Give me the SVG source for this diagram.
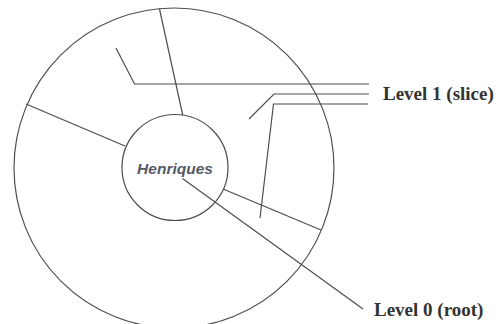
<svg xmlns="http://www.w3.org/2000/svg" width="500" height="324" viewBox="0 0 500 324">
  <style>
    .ln { fill: none; stroke: #4d4d4d; stroke-width: 1.2; }
    .lbl { font-family: "Liberation Serif", "Times New Roman", serif; font-weight: bold; font-size: 19px; fill: #333; }
    .root { font-family: "Liberation Sans", Arial, sans-serif; font-style: italic; font-weight: bold; font-size: 15.5px; fill: #555a66; }
  </style>
  <rect width="500" height="324" fill="#fff"/>
  <g id="outer">
    <circle class="ln" cx="174" cy="168" r="160"/>
  </g>
  <g id="inner">
    <circle class="ln" cx="175" cy="167.5" r="53"/>
    <text class="root" x="175" y="174" text-anchor="middle">Henriques</text>
  </g>
  <g id="connectors">
    <line class="ln" x1="159.5" y1="9" x2="182.7" y2="115"/>
    <line class="ln" x1="26" y1="104" x2="125" y2="146"/>
    <line class="ln" x1="223" y1="189" x2="321" y2="230"/>
    <line class="ln" x1="182.5" y1="178.5" x2="363" y2="309"/>
    <polyline class="ln" points="116,48 134.5,84 369,84"/>
    <polyline class="ln" points="249,119 274,94 369,94"/>
    <polyline class="ln" points="260,218 273.5,104 368,104"/>
  </g>
  <g id="label-level1">
    <text class="lbl" x="383" y="99.5">Level 1 (slice)</text>
  </g>
  <g id="label-level0">
    <text class="lbl" x="374" y="316">Level 0 (root)</text>
  </g>
</svg>
